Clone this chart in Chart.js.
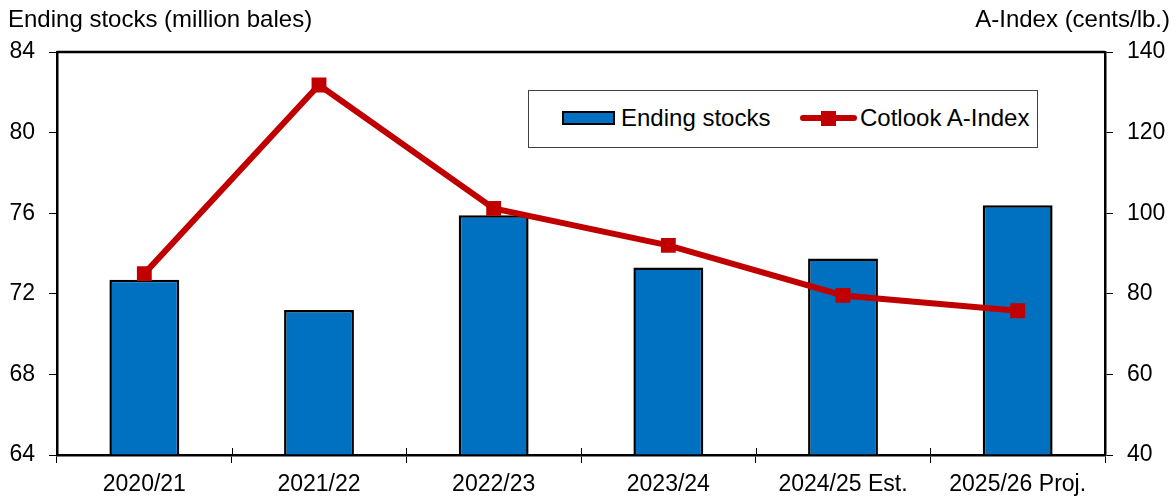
<!DOCTYPE html>
<html>
<head>
<meta charset="utf-8">
<script src="https://cdn.jsdelivr.net/npm/chart.js@4"></script>
<style>
  html, body { margin: 0; padding: 0; background: #fff; }
  #wrap { position: relative; width: 1176px; height: 498px; font-family: "Liberation Sans", Arial, sans-serif; }
  .axisTitle { position: absolute; top: 5px; font-size: 24px; color: #000; white-space: nowrap; }
  #legend { position: absolute; left: 528px; top: 90px; width: 508px; height: 56px; border: 1px solid #404040; background: #fff; font-size: 24px; }
  .item { position: absolute; top: 13px; height: 28px; line-height: 28px; display: flex; align-items: center; white-space: nowrap; }
  .barKey { width: 49px; height: 10px; background: #0070C0; border: 2px solid #000; margin-right: 6px; }
  .lineKey { position: relative; width: 57px; height: 20px; margin-right: 3px; }
  .lineKey .l { position: absolute; left: 0; right: 0; top: 7px; height: 6px; border-radius: 3px; background: #C00000; }
  .lineKey .m { position: absolute; left: 21px; top: 3px; width: 15px; height: 15px; background: #C00000; }
</style>
</head>
<body>
<div id="wrap">
  <canvas id="cottonChart" width="1176" height="498"></canvas>
  <div class="axisTitle" style="left:8px;">Ending stocks (million bales)</div>
  <div class="axisTitle" style="right:6px;">A-Index (cents/lb.)</div>
  <div id="legend">
    <div class="item" style="left:33px;"><span class="barKey"></span>Ending stocks</div>
    <div class="item" style="left:271px;"><span class="lineKey"><span class="l"></span><span class="m"></span></span>Cotlook A-Index</div>
  </div>
</div>
<script>
// Marketing years
const years = ['2020/21', '2021/22', '2022/23', '2023/24', '2024/25 Est.', '2025/26 Proj.'];
// World ending stocks, million bales
const endingStocks = [72.7, 71.2, 75.9, 73.3, 73.75, 76.4];
// Cotlook A-Index, cents/lb.
const aIndex = [85.0, 131.8, 101.2, 92.0, 79.6, 75.8];

const stockTicks = [64, 68, 72, 76, 80, 84];
const indexTicks = [40, 60, 80, 100, 120, 140];

const tickFont = { family: 'Liberation Sans', size: 23 };

const ctx = document.getElementById('cottonChart').getContext('2d');
new Chart(ctx, {
    data: {
        labels: years,
        datasets: [{
            type: 'line',
            label: 'Cotlook A-Index',
            data: aIndex,
            yAxisID: 'yRight',
            borderColor: '#C00000',
            backgroundColor: '#C00000',
            borderWidth: 6,
            pointStyle: 'rect',
            pointRadius: 10.5,
            pointBorderWidth: 0,
            tension: 0,
            order: 0
        }, {
            type: 'bar',
            label: 'Ending stocks',
            data: endingStocks,
            yAxisID: 'yLeft',
            backgroundColor: '#0070C0',
            borderColor: '#000000',
            borderWidth: 2.5,
            barPercentage: 0.4,
            categoryPercentage: 1,
            base: 64,
            order: 1
        }]
    },
    options: {
        responsive: false,
        animation: false,
        layout: { padding: { top: 52, left: 9, right: 11, bottom: 2 } },
        plugins: {
            legend: { display: false },
            tooltip: { enabled: false }
        },
        scales: {
            x: {
                afterFit: axis => { axis.height = 41; },
                grid: { offset: true, drawOnChartArea: false, color: '#000', tickLength: 8, lineWidth: 1 },
                border: { color: '#000', width: 2.5 },
                ticks: { color: '#000', font: tickFont, padding: 8, maxRotation: 0 }
            },
            yLeft: {
                position: 'left',
                min: 64, max: 84,
                afterBuildTicks: axis => { axis.ticks = stockTicks.map(v => ({ value: v })); },
                afterFit: axis => { axis.width = 48; },
                grid: { drawOnChartArea: false, color: '#000', tickLength: 8 },
                border: { color: '#000', width: 2.5 },
                ticks: { color: '#000', font: tickFont, padding: 14 }
            },
            yRight: {
                position: 'right',
                min: 40, max: 140,
                afterBuildTicks: axis => { axis.ticks = indexTicks.map(v => ({ value: v })); },
                afterFit: axis => { axis.width = 60; },
                grid: { drawOnChartArea: false, color: '#000', tickLength: 8 },
                border: { color: '#000', width: 2.5 },
                ticks: { color: '#000', font: tickFont, padding: 14 }
            }
        }
    },
    plugins: [{
        // top border of the plot area + x ticks crossing the axis
        id: 'frameExtras',
        afterDraw(chart) {
            const a = chart.chartArea, c = chart.ctx;
            const n = chart.data.labels.length;
            const step = (a.right - a.left) / n;
            c.save();
            c.strokeStyle = '#000';
            c.lineWidth = 2.5;
            c.beginPath();
            c.moveTo(a.left, a.top);
            c.lineTo(a.right, a.top);
            c.stroke();
            c.lineWidth = 1;
            c.beginPath();
            for (let i = 1; i < n; i++) {
                const x = Math.round(a.left + i * step) + 0.5;
                c.moveTo(x, a.bottom - 7);
                c.lineTo(x, a.bottom);
            }
            c.stroke();
            c.restore();
        }
    }]
});
</script>
</body>
</html>
